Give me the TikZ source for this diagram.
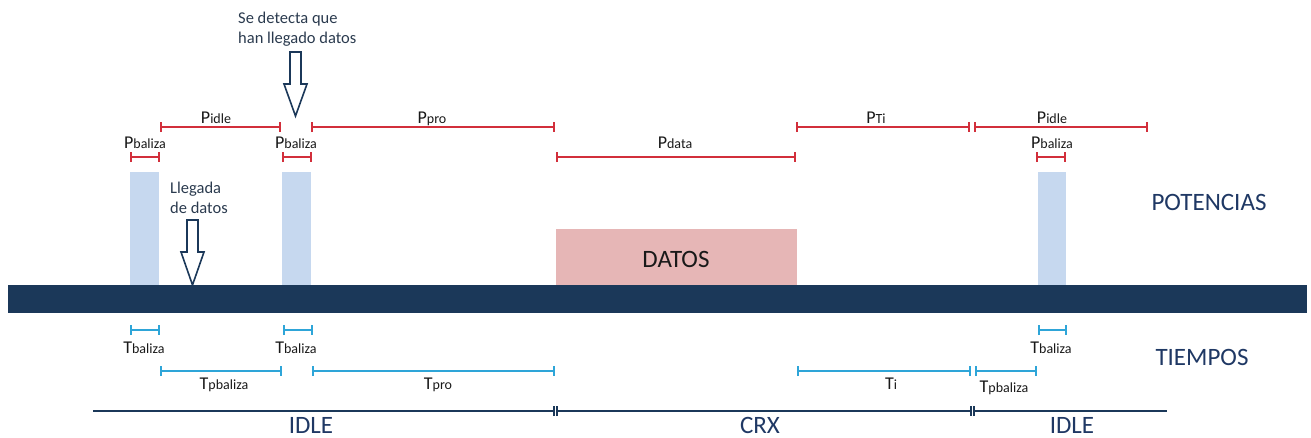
\documentclass[tikz,border=0pt]{standalone}
\usepackage{fontspec}
\setmainfont{Carlito}
\usetikzlibrary{arrows.meta}
\definecolor{navy}{HTML}{1B3859}
\definecolor{beacon}{HTML}{C6D8EF}
\definecolor{datosc}{HTML}{E6B6B6}
\definecolor{pred}{HTML}{D22F3B}
\definecolor{tblue}{HTML}{2EA5D8}
\definecolor{txtnavy}{HTML}{1F3864}
\definecolor{notec}{HTML}{2A3A4E}
\newcommand\mysub[2]{#1{\fontsize{14}{14}\selectfont\raisebox{-0.8pt}{#2}}}
\begin{document}
\begin{tikzpicture}[x=1pt,y=-1pt,
  meas/.style={line width=2pt,{Bar[width=10pt]}-{Bar[width=10pt]}},
  pline/.style={meas,draw=pred},
  tline/.style={meas,draw=tblue},
  lab/.style={font=\fontsize{18}{18}\selectfont,inner sep=0pt,anchor=base,text=black!90},
  big/.style={font=\fontsize{25}{25}\selectfont,inner sep=0pt,anchor=base,text=txtnavy},
  note/.style={font=\fontsize{16.5}{16.5}\selectfont,inner sep=0pt,anchor=base west,text=notec},
  hollow/.style={draw=navy,line width=1.6pt,fill=white,line join=miter},
  beaconbox/.style={fill=beacon,draw=none}
]
\useasboundingbox (0,0) rectangle (1311,437);

% main bar
\fill[navy] (8,285) rectangle (1307,313);

% beacons
\node[beaconbox,minimum width=29pt,minimum height=113pt,inner sep=0pt,anchor=south west] (b1) at (130,285) {};
\node[beaconbox,minimum width=29pt,minimum height=113pt,inner sep=0pt,anchor=south west] (b2) at (282,285) {};
\node[beaconbox,minimum width=28pt,minimum height=113pt,inner sep=0pt,anchor=south west] (b3) at (1038,285) {};

% datos box
\node[fill=datosc,minimum width=241pt,minimum height=56pt,inner sep=0pt,anchor=south west] (datos) at (556,285) {};
\node[font=\fontsize{25}{25}\selectfont,inner sep=0pt,anchor=base,text=black!90] (datostxt) at (676,267) {DATOS};

% red measurement lines
\coordinate (p1a) at (130,157); \coordinate (p1b) at (160,157);
\coordinate (p2a) at (160,127); \coordinate (p2b) at (281,127);
\coordinate (p3a) at (282,157); \coordinate (p3b) at (312,157);
\coordinate (p4a) at (311,127); \coordinate (p4b) at (555,127);
\coordinate (p5a) at (556,157); \coordinate (p5b) at (796,157);
\coordinate (p6a) at (796,127); \coordinate (p6b) at (970,127);
\coordinate (p7a) at (974,127); \coordinate (p7b) at (1148,127);
\coordinate (p8a) at (1036,157); \coordinate (p8b) at (1066,157);
\draw[pline] (p1a) -- (p1b);
\draw[pline] (p2a) -- (p2b);
\draw[pline] (p3a) -- (p3b);
\draw[pline] (p4a) -- (p4b);
\draw[pline] (p5a) -- (p5b);
\draw[pline] (p6a) -- (p6b);
\draw[pline] (p7a) -- (p7b);
\draw[pline] (p8a) -- (p8b);

\node[lab] (lp1) at (145,148) {\mysub{P}{baliza}};
\node[lab] (lp2) at (216,123) {\mysub{P}{idle}};
\node[lab] (lp3) at (296,148) {\mysub{P}{baliza}};
\node[lab] (lp4) at (432,123) {\mysub{P}{pro}};
\node[lab] (lp5) at (675,148) {\mysub{P}{data}};
\node[lab] (lp6) at (876,123) {\mysub{P}{Ti}};
\node[lab] (lp7) at (1052,123) {\mysub{P}{idle}};
\node[lab] (lp8) at (1052,148) {\mysub{P}{baliza}};

% blue measurement lines
\coordinate (t1a) at (130,330); \coordinate (t1b) at (160,330);
\coordinate (t2a) at (283,330); \coordinate (t2b) at (313,330);
\coordinate (t3a) at (160,371); \coordinate (t3b) at (282,371);
\coordinate (t4a) at (312,371); \coordinate (t4b) at (555,371);
\coordinate (t5a) at (797,371); \coordinate (t5b) at (971,371);
\coordinate (t6a) at (975,371); \coordinate (t6b) at (1037,371);
\coordinate (t7a) at (1038,330); \coordinate (t7b) at (1067,330);
\draw[tline] (t1a) -- (t1b);
\draw[tline] (t2a) -- (t2b);
\draw[tline] (t3a) -- (t3b);
\draw[tline] (t4a) -- (t4b);
\draw[tline] (t5a) -- (t5b);
\draw[tline] (t6a) -- (t6b);
\draw[tline] (t7a) -- (t7b);

\node[lab] (lt1) at (144,353) {\mysub{T}{baliza}};
\node[lab] (lt2) at (296,353) {\mysub{T}{baliza}};
\node[lab] (lt3) at (224,389) {\mysub{T}{pbaliza}};
\node[lab] (lt4) at (438,389) {\mysub{T}{pro}};
\node[lab] (lt5) at (891,389) {\mysub{T}{i}};
\node[lab] (lt6) at (1004,392) {\mysub{T}{pbaliza}};
\node[lab] (lt7) at (1051,353) {\mysub{T}{baliza}};

% timeline
\coordinate (tl0) at (93,411);
\coordinate (tl1) at (554,411);
\coordinate (tl1b) at (557,411);
\coordinate (tl2) at (971,411);
\coordinate (tl2b) at (974,411);
\coordinate (tl3) at (1167,411);
\draw[navy,line width=2pt] (tl0) -- (tl1);
\draw[navy,line width=2pt] (tl1b) -- (tl2);
\draw[navy,line width=2pt] (tl2b) -- (tl3);
\foreach \c in {tl1,tl1b,tl2,tl2b}
  \draw[navy,line width=1.6pt] ([yshift=-5pt]\c) -- ([yshift=5pt]\c);
\node[big] (idle1) at (311,433) {IDLE};
\node[big] (crx) at (760,433) {CRX};
\node[big] (idle2) at (1072,433) {IDLE};

% side labels
\node[big] (pot) at (1209,210) {POTENCIAS};
\node[big] (tiem) at (1202,365) {TIEMPOS};

% notes and hollow arrows
\node[note] (n1a) at (238,23) {Se detecta que};
\node[note] (n1b) at (238,43) {han llegado datos};
\draw[hollow] (290,52) -- (301,52) -- (301,84) -- (307,84) -- (295.5,116) -- (284,84) -- (290,84) -- cycle;

\node[note] (n2a) at (170,193) {Llegada};
\node[note] (n2b) at (170,213) {de datos};
\draw[hollow] (187,220) -- (198,220) -- (198,252) -- (204,252) -- (192.5,285) -- (181,252) -- (187,252) -- cycle;
\end{tikzpicture}
\end{document}
